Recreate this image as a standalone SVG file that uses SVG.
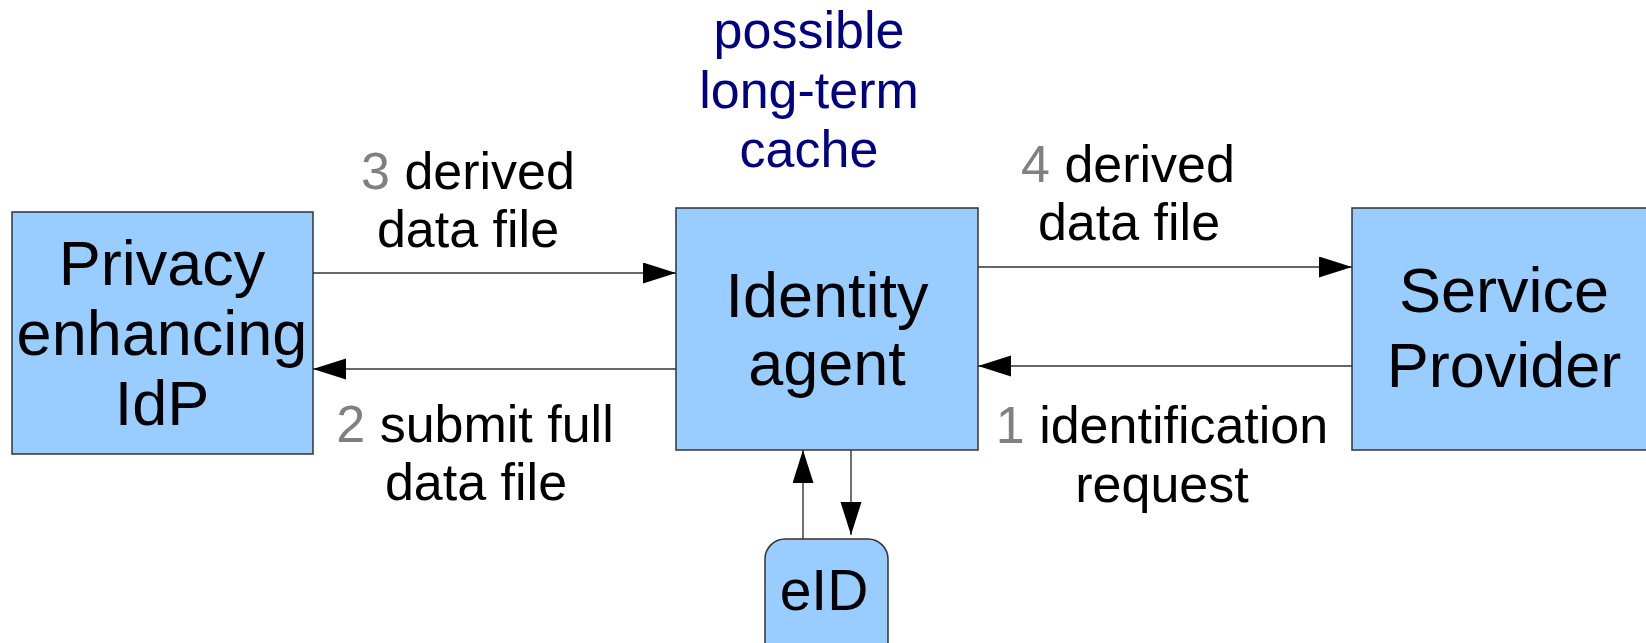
<svg xmlns="http://www.w3.org/2000/svg" width="1646" height="643" viewBox="0 0 1646 643">
<style>
.box{fill:#99ccff;stroke:#333;stroke-width:1.5}
.big{font-family:"Liberation Sans",Arial,sans-serif;font-size:63px;fill:#000;text-anchor:middle}
.lbl{font-family:"Liberation Sans",Arial,sans-serif;font-size:52px;fill:#000;text-anchor:middle}
.num{fill:#808080}
.cache{fill:#000080}
.con{stroke:#333;stroke-width:1.4;fill:none}
</style>
<defs>
<marker id="ah" markerUnits="userSpaceOnUse" markerWidth="34" markerHeight="22" refX="33" refY="10.5" orient="auto">
<path d="M0,0 L33,10.5 L0,21 z" fill="#000"/>
</marker>
</defs>
<rect width="1646" height="643" fill="#fff"/>
<g id="connectors">
<line class="con" x1="313" y1="273" x2="676" y2="273" marker-end="url(#ah)"/>
<line class="con" x1="676" y1="369" x2="313" y2="369" marker-end="url(#ah)"/>
<line class="con" x1="978" y1="267" x2="1352" y2="267" marker-end="url(#ah)"/>
<line class="con" x1="1352" y1="366" x2="978" y2="366" marker-end="url(#ah)"/>
<line class="con" x1="803" y1="539" x2="803" y2="450" marker-end="url(#ah)"/>
<line class="con" x1="851" y1="450" x2="851" y2="535" marker-end="url(#ah)"/>
</g>
<g id="idp">
<rect class="box" x="12" y="212" width="301" height="242"/>
<text class="big" x="162" y="285">Privacy</text>
<text class="big" x="162" y="355">enhancing</text>
<text class="big" x="162" y="425">IdP</text>
</g>
<g id="agent">
<rect class="box" x="676" y="208" width="302" height="242"/>
<text class="big" x="827" y="317">Identity</text>
<text class="big" x="827" y="385">agent</text>
</g>
<g id="sp">
<rect class="box" x="1352" y="208" width="310" height="242"/>
<text class="big" x="1504" y="312">Service</text>
<text class="big" x="1504" y="387">Provider</text>
</g>
<g id="eid">
<rect class="box" x="765" y="539" width="123" height="130" rx="20" ry="20"/>
<text class="big" x="824" y="610" style="font-size:57px">eID</text>
</g>
<g id="cache-label">
<text class="lbl cache" x="809" y="48">possible</text>
<text class="lbl cache" x="809" y="108">long-term</text>
<text class="lbl cache" x="809" y="167">cache</text>
</g>
<g id="labels">
<text class="lbl" x="468" y="189"><tspan class="num">3</tspan> derived</text>
<text class="lbl" x="468" y="247">data file</text>
<text class="lbl" x="475" y="442"><tspan class="num">2</tspan> submit full</text>
<text class="lbl" x="476" y="500">data file</text>
<text class="lbl" x="1128" y="182"><tspan class="num">4</tspan> derived</text>
<text class="lbl" x="1129" y="240">data file</text>
<text class="lbl" x="1162" y="443"><tspan class="num">1</tspan> identification</text>
<text class="lbl" x="1162" y="502">request</text>
</g>
</svg>
